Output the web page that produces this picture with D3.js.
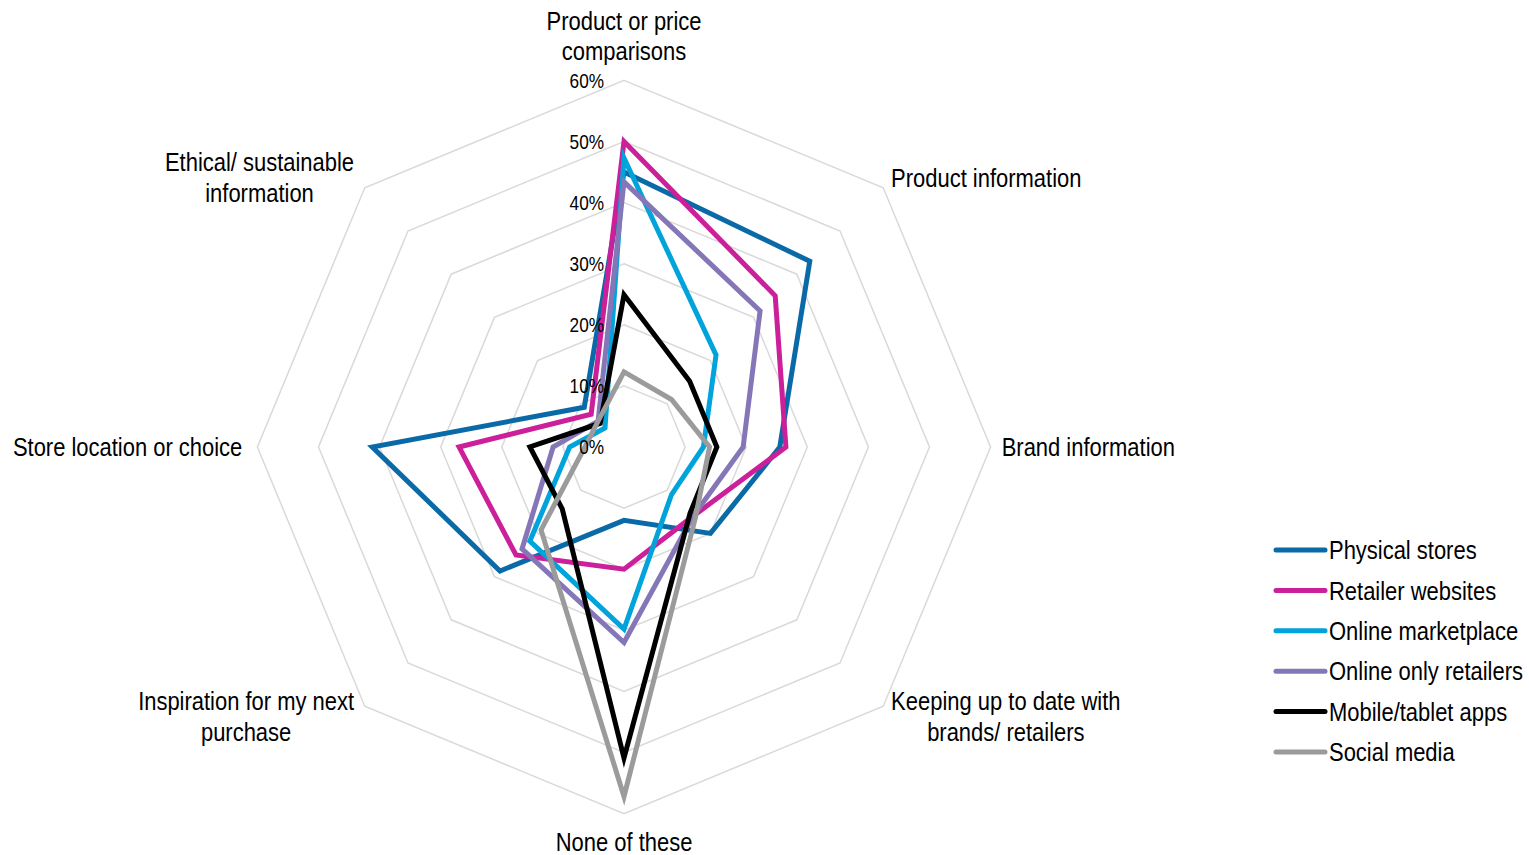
<!DOCTYPE html>
<html>
<head>
<meta charset="utf-8">
<script src="https://cdn.jsdelivr.net/npm/d3@7"></script>
<style>
  html, body { margin: 0; padding: 0; background: #fff; }
  svg { display: block; }
  text { font-family: "Liberation Sans", Arial, sans-serif; fill: #000; }
</style>
</head>
<body>
<svg id="chart" width="1529" height="855"></svg>
<script>
// ---- Data ----
const categories = [
  ["Product or price", "comparisons"],
  ["Product information"],
  ["Brand information"],
  ["Keeping up to date with", "brands/ retailers"],
  ["None of these"],
  ["Inspiration for my next", "purchase"],
  ["Store location or choice"],
  ["Ethical/ sustainable", "information"]
];
const seriesNames = ["Physical stores", "Retailer websites", "Online marketplace", "Online only retailers", "Mobile/tablet apps", "Social media"];
const physicalStores     = [45, 43, 25.5, 20, 12, 28.7, 41.2, 9.2];
const retailerWebsites   = [50, 35, 26.5, 16, 20, 25, 27, 7.6];
const onlineMarketplace  = [47.3, 21.3, 13, 11, 29.8, 21.8, 8.9, 4.4];
const onlineOnly         = [43.4, 31.5, 19.5, 16, 32, 23.6, 11.6, 6];
const mobileApps         = [24.9, 15.2, 15.2, 15.3, 50.9, 14.3, 15.4, 5.5];
const socialMedia        = [12.3, 11, 14, 16.5, 57.2, 19.2, 6.4, 6];
const tickValues = [0, 10, 20, 30, 40, 50, 60];
const tickLabels = ["0%", "10%", "20%", "30%", "40%", "50%", "60%"];
const seriesColors = ["#0a6aa8", "#cc1f9a", "#00a3da", "#8577b7", "#000000", "#9b9b9b"];

const seriesData = [physicalStores, retailerWebsites, onlineMarketplace, onlineOnly, mobileApps, socialMedia];

// ---- Layout ----
const cx = 624, cy = 447, R = 366.6;
const SX = 0.845;     // horizontal condensing for labels (Arial Narrow look)
const SX_TICK = 0.82;
const svg = d3.select("#chart");
const g = svg.append("g").attr("transform", `translate(${cx},${cy})`);

const r = d3.scaleLinear().domain([0, 60]).range([0, R]);
const n = categories.length;
const angle = d3.scaleLinear().domain([0, n]).range([0, 2 * Math.PI]);

const radial = d3.lineRadial()
  .angle((d, i) => angle(i))
  .radius(d => r(d))
  .curve(d3.curveLinearClosed);

function ntext(parent, x, y, size, anchor, sx) {
  return parent.append("text")
    .attr("transform", `translate(${x},${y}) scale(${sx},1)`)
    .attr("font-size", size)
    .attr("text-anchor", anchor)
    .attr("dy", "0.35em");
}

// Grid octagons
tickValues.filter(v => v > 0).forEach(v => {
  g.append("path")
    .attr("d", radial(d3.range(n).map(() => v)))
    .attr("fill", "none")
    .attr("stroke", "#d9d9d9")
    .attr("stroke-width", 1.5);
});

// Series
seriesData.forEach((vals, si) => {
  g.append("path")
    .attr("d", radial(vals))
    .attr("fill", "none")
    .attr("stroke", seriesColors[si])
    .attr("stroke-width", 5)
    .attr("stroke-linejoin", "miter")
    .attr("stroke-miterlimit", 10);
});

// Tick labels
tickValues.forEach((v, i) => {
  ntext(g, -20, -r(v), 21, "end", SX_TICK).text(tickLabels[i]);
});

// Category labels
const lineH = 31;
const fs = 26;
categories.forEach((lines, i) => {
  const a = angle(i);
  const s = Math.sin(a), c = -Math.cos(a);
  const vx = r(60) * s, vy = r(60) * c;
  const tmp = g.append("text").attr("font-size", fs);
  const w = d3.max(lines, l => { tmp.text(l); return tmp.node().getComputedTextLength(); }) * SX;
  tmp.remove();
  const nl = lines.length;
  let bx, firstY;
  if (Math.abs(s) < 0.1) {
    bx = vx;
    firstY = c < 0 ? vy - 29 - (nl - 1) * lineH : vy + 28;
  } else {
    const px = vx + (s > 0 ? 11 : 15) * s;
    const py = vy + 14 * c;
    bx = s > 0 ? px + w / 2 : px - w / 2;
    firstY = py - (nl - 1) * lineH / 2;
  }
  const t = ntext(g, bx, firstY, fs, "middle", SX).attr("dy", null);
  lines.forEach((l, k) => {
    t.append("tspan").attr("x", 0).attr("y", k * lineH).attr("dy", "0.35em").text(l);
  });
});

// Legend
const legendY = d3.scalePoint().domain(seriesNames).range([550, 752]);
const lg = svg.append("g");
seriesNames.forEach((name, i) => {
  const y = legendY(name);
  lg.append("line")
    .attr("x1", 1276).attr("x2", 1325)
    .attr("y1", y).attr("y2", y)
    .attr("stroke", seriesColors[i])
    .attr("stroke-width", 5)
    .attr("stroke-linecap", "round");
  ntext(lg, 1329, y, fs, "start", SX).text(name);
});
</script>
</body>
</html>
